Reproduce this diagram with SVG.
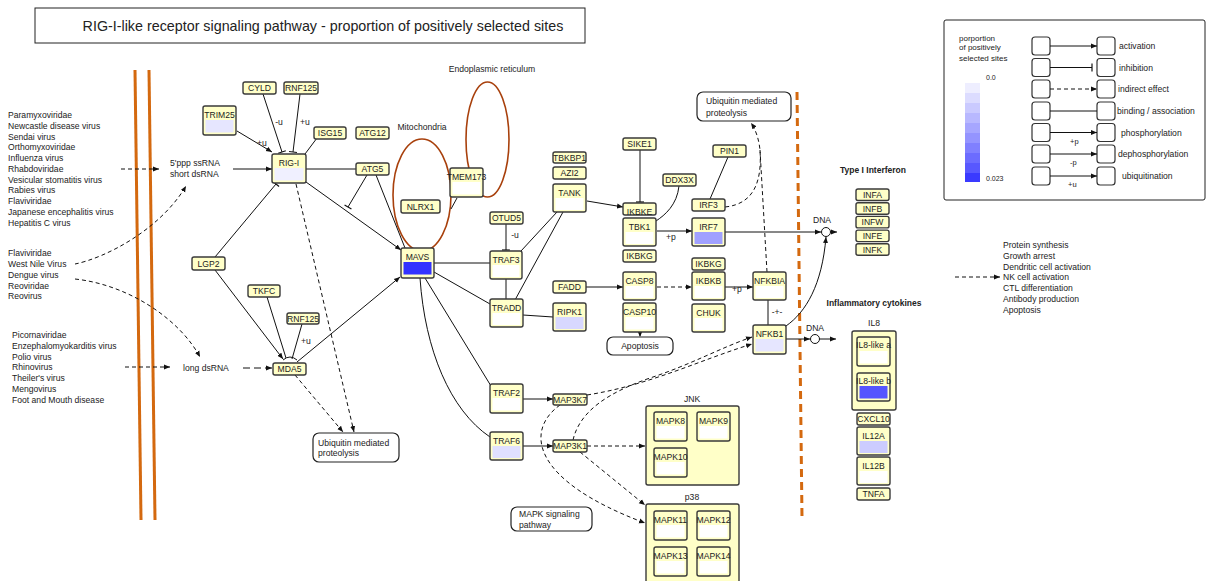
<svg xmlns="http://www.w3.org/2000/svg" width="1213" height="581" viewBox="0 0 1213 581">
<defs>
<marker id="arr" markerUnits="userSpaceOnUse" markerWidth="6" markerHeight="6" viewBox="0 0 6 6" refX="6" refY="3" orient="auto"><path d="M0,0.5 L6,3 L0,5.5 z" fill="#111"/></marker>
<marker id="tbar" markerUnits="userSpaceOnUse" markerWidth="3" markerHeight="10" viewBox="0 0 3 10" refX="1.5" refY="5" orient="auto"><path d="M1.5,1 V9" stroke="#111" stroke-width="1.2"/></marker>
</defs>
<style>
text{font-family:"Liberation Sans",Arial,sans-serif;fill:#222;font-size:8.6px}
.c{text-anchor:middle}
.b{font-weight:bold}
.sm{font-size:7px}
.node rect.box{fill:#ffffc8;stroke:#3a3a3a;stroke-width:1.4}
.node rect.bar{stroke:none}
.grp{fill:#ffffc8;stroke:#3a3a3a;stroke-width:1.4}
.e{fill:none;stroke:#111;stroke-width:1}
.d{stroke-dasharray:4 3}
.a{marker-end:url(#arr)}
.t{marker-end:url(#tbar)}
.org{stroke:#d4690f;stroke-width:3;fill:none}
.ell{fill:none;stroke:#a8400c;stroke-width:1.6}
.lg rect.lb{fill:#fff;stroke:#333;stroke-width:1.2}
</style>
<rect x="0" y="0" width="1213" height="581" fill="#fff"/>

<g id="title"><rect x="35" y="8" width="550" height="35" fill="#fff" stroke="#222" stroke-width="1"/><text class="c" x="323" y="30.5" style="font-size:14.3px">RIG-I-like receptor signaling pathway - proportion of positively selected sites</text></g>

<g id="membranes">
<path class="org" d="M135,70 L141,520"/>
<path class="org" d="M149,70 L155,520"/>
<path class="org" d="M797,92 L802,518" style="stroke-dasharray:8 5"/>
<ellipse class="ell" cx="422" cy="195" rx="29" ry="56"/>
<ellipse class="ell" cx="487.5" cy="139.5" rx="21.5" ry="57.5"/>
<text class="c" x="422" y="130">Mitochondria</text>
<text class="c" x="492" y="72">Endoplasmic reticulum</text>
</g>

<g id="virus-texts" style="font-size:8.5px">
<text x="8" y="118">Paramyxoviridae</text>
<text x="8" y="128.8">Newcastle disease virus</text>
<text x="8" y="139.5">Sendai virus</text>
<text x="8" y="150.3">Orthomyxoviridae</text>
<text x="8" y="161">Influenza virus</text>
<text x="8" y="171.8">Rhabdoviridae</text>
<text x="8" y="182.5">Vesicular stomatitis virus</text>
<text x="8" y="193.3">Rabies virus</text>
<text x="8" y="204">Flaviviridae</text>
<text x="8" y="214.8">Japanese encephalitis virus</text>
<text x="8" y="225.5">Hepatitis C virus</text>
<text x="8" y="256.3">Flaviviridae</text>
<text x="8" y="267">West Nile Virus</text>
<text x="8" y="277.7">Dengue virus</text>
<text x="8" y="288.5">Reoviridae</text>
<text x="8" y="299.2">Reovirus</text>
<text x="12" y="338">Picornaviridae</text>
<text x="12" y="348.8">Enzephalomyokarditis virus</text>
<text x="12" y="359.5">Polio virus</text>
<text x="12" y="370.3">Rhinovirus</text>
<text x="12" y="381">Theiler's virus</text>
<text x="12" y="391.8">Mengovirus</text>
<text x="12" y="402.5">Foot and Mouth disease</text>
<text x="170" y="166">5'ppp ssRNA</text>
<text x="170" y="177">short dsRNA</text>
<text x="183" y="371">long dsRNA</text>
</g>

<g id="connectors">
<path class="e d a" d="M121,169 L159,169"/>
<path class="e a" d="M233,169 L272,169"/>
<path class="e d a" d="M75,264 C105,258 160,230 186,186"/>
<path class="e d a" d="M75,279 C130,285 180,320 200,357"/>
<path class="e d a" d="M125,367 L170,367"/>
<path class="e a" d="M243,368 L272,368" style="stroke-dasharray:7 4"/>
<path class="e a" d="M237,131 L272,152"/>
<path class="e t" d="M263,94 L282,152"/>
<path class="e t" d="M300,94 L293,152"/>
<path class="e" d="M317,138 L305,154"/>
<path class="e" d="M306,169 L356,169"/>
<path class="e t" d="M367,175 L348,207"/>
<path class="e" d="M376,175 L405,248"/>
<path class="e a" d="M306,182 L401,250"/>
<path class="e t" d="M215,257 L276,184"/>
<path class="e d a" d="M296,184 L354,432"/>
<path class="e d a" d="M295,375 L343,432"/>
<path class="e a" d="M215,270 L283,359"/>
<path class="e" d="M267,297 L286,358"/>
<path class="e" d="M302,324 L292,359"/>
<path class="e" d="M283,360 Q290,354 297,360"/>
<path class="e a" d="M297,362 L400,277"/>
<path class="e" d="M434,263 L490,263"/>
<path class="e" d="M434,272 L490,304"/>
<path class="e" d="M425,278 L491,386"/>
<path class="e" d="M420,278 C425,350 450,410 490,437"/>
<path class="e" d="M457,198 L451,209"/>
<path class="e t" d="M506,224 L506,250"/>
<path class="e" d="M506,279 L506,299"/>
<path class="e" d="M521,251 L557,212"/>
<path class="e" d="M515,300 L563,212"/>
<path class="e" d="M523,315 L553,317"/>
<path class="e a" d="M587,201 L623,207"/>
<path class="e t" d="M640,150 L640,202"/>
<path class="e" d="M679,186 C677,205 665,215 656,221"/>
<path class="e a" d="M657,231 L692,231"/>
<path class="e" d="M728,157 L710,199"/>
<path class="e d a" d="M725,207 C755,204 762,180 760,150 C759,140 756,130 751,123"/>
<path class="e d" d="M767,272 L760,150"/>
<path class="e a" d="M586,287 L623,287"/>
<path class="e d a" d="M657,287 L692,287"/>
<path class="e a" d="M725,287 L753,287"/>
<path class="e" d="M768,300 L768,325"/>
<path class="e d a" d="M640,332 L640,337"/>
<path class="e a" d="M725,232 L821,232"/>
<circle cx="826" cy="232" r="4.5" fill="#fff" stroke="#111" stroke-width="1"/>
<path class="e a" d="M830.5,232 L837,232"/>
<path class="e a" d="M786,339 L810,339"/>
<circle cx="815" cy="339" r="4.5" fill="#fff" stroke="#111" stroke-width="1"/>
<path class="e a" d="M819.5,339 L836,339"/>
<path class="e a" d="M786,326 C806,312 822,285 826,237"/>
<path class="e a" d="M523,399 L553,399"/>
<path class="e a" d="M523,446 L553,446"/>
<path class="e d a" d="M587,395 C650,385 700,360 752,344"/>
<path class="e d a" d="M573,440 C580,410 610,392 650,378 C690,365 720,348 752,337"/>
<path class="e d a" d="M587,446 L645,446"/>
<path class="e d a" d="M580,452 L645,505"/>
<path class="e d a" d="M560,405 C525,430 530,480 645,523"/>
<path class="e d a" d="M955,277 L1000,277"/>
<text class="c" x="262" y="146">+u</text>
<text class="c" x="279" y="125">-u</text>
<text class="c" x="305" y="125">+u</text>
<text class="c" x="306" y="344">+u</text>
<text class="c" x="515" y="238">-u</text>
<text class="c" x="671" y="240">+p</text>
<text class="c" x="737" y="292">+p</text>
<text class="c" x="777" y="315">-+-</text>
<text class="c" x="822" y="223">DNA</text>
<text class="c" x="815" y="331">DNA</text>
</g>

<g id="ubiq1"><rect x="313" y="433" width="86" height="29" rx="6" fill="#fff" stroke="#222" stroke-width="1.2"/><text x="318" y="445.5">Ubiquitin mediated</text><text x="318" y="455.8">proteolysis</text></g>
<g id="ubiq2"><rect x="697" y="92" width="94" height="29" rx="6" fill="#fff" stroke="#222" stroke-width="1.2"/><text x="706" y="104">Ubiquitin mediated</text><text x="706" y="115.5">proteolysis</text></g>
<g id="apoptosis"><rect x="607" y="337" width="66" height="18" rx="6" fill="#fff" stroke="#222" stroke-width="1.2"/><text class="c" x="640" y="349">Apoptosis</text></g>
<g id="mapk-path"><rect x="511" y="507" width="81" height="24" rx="6" fill="#fff" stroke="#222" stroke-width="1.2"/><text x="519" y="517.3">MAPK signaling</text><text x="519" y="527.5">pathway</text></g>

<g id="n-cyld" class="node"><rect class="box" x="243" y="82" width="33" height="12" rx="2"/><text class="c" x="259.5" y="91.2">CYLD</text></g>
<g id="n-rnf125a" class="node"><rect class="box" x="284" y="82" width="34" height="12" rx="2"/><text class="c" x="301" y="91.2">RNF125</text></g>
<g id="n-isg15" class="node"><rect class="box" x="314" y="127" width="32" height="12" rx="2"/><text class="c" x="330" y="136.2">ISG15</text></g>
<g id="n-atg12" class="node"><rect class="box" x="356" y="127" width="33" height="12" rx="2"/><text class="c" x="372.5" y="136.2">ATG12</text></g>
<g id="n-atg5" class="node"><rect class="box" x="356" y="163" width="33" height="12" rx="2"/><text class="c" x="372.5" y="172.2">ATG5</text></g>
<g id="n-nlrx1" class="node"><rect class="box" x="401" y="200" width="39" height="13" rx="2"/><text class="c" x="420.5" y="209.7">NLRX1</text></g>
<g id="n-lgp2" class="node"><rect class="box" x="192" y="257" width="33" height="13" rx="2"/><text class="c" x="208.5" y="266.7">LGP2</text></g>
<g id="n-tkfc" class="node"><rect class="box" x="248" y="285" width="32" height="12" rx="2"/><text class="c" x="264" y="294.2">TKFC</text></g>
<g id="n-rnf125b" class="node"><rect class="box" x="287" y="313" width="32" height="11" rx="2"/><text class="c" x="303" y="321.7">RNF125</text></g>
<g id="n-mda5" class="node"><rect class="box" x="273" y="363" width="33" height="12" rx="2"/><text class="c" x="289.5" y="372.2">MDA5</text></g>
<g id="n-otud5" class="node"><rect class="box" x="490" y="212" width="33" height="12" rx="2"/><text class="c" x="506.5" y="221.2">OTUD5</text></g>
<g id="n-tbkbp1" class="node"><rect class="box" x="553" y="152" width="33" height="11" rx="2"/><text class="c" x="569.5" y="160.7">TBKBP1</text></g>
<g id="n-azi2" class="node"><rect class="box" x="553" y="167" width="33" height="12" rx="2"/><text class="c" x="569.5" y="176.2">AZI2</text></g>
<g id="n-sike1" class="node"><rect class="box" x="623" y="138" width="33" height="12" rx="2"/><text class="c" x="639.5" y="147.2">SIKE1</text></g>
<g id="n-ikbke" class="node"><rect class="box" x="623" y="203" width="33" height="12" rx="2"/><text class="c" x="639.5" y="214.5">IKBKE</text></g>
<g id="n-ikbkg1" class="node"><rect class="box" x="623" y="250" width="33" height="12" rx="2"/><text class="c" x="639.5" y="259.2">IKBKG</text></g>
<g id="n-fadd" class="node"><rect class="box" x="553" y="281" width="33" height="12" rx="2"/><text class="c" x="569.5" y="290.2">FADD</text></g>
<g id="n-ddx3x" class="node"><rect class="box" x="663" y="174" width="33" height="12" rx="2"/><text class="c" x="679.5" y="183.2">DDX3X</text></g>
<g id="n-pin1" class="node"><rect class="box" x="713" y="145" width="33" height="12" rx="2"/><text class="c" x="729.5" y="154.2">PIN1</text></g>
<g id="n-irf3" class="node"><rect class="box" x="692" y="199" width="33" height="12" rx="2"/><text class="c" x="708.5" y="208.2">IRF3</text></g>
<g id="n-ikbkg2" class="node"><rect class="box" x="692" y="258" width="33" height="12" rx="2"/><text class="c" x="708.5" y="267.2">IKBKG</text></g>
<g id="n-map3k7" class="node"><rect class="box" x="553" y="394" width="34" height="11" rx="2"/><text class="c" x="570" y="402.7">MAP3K7</text></g>
<g id="n-map3k1" class="node"><rect class="box" x="553" y="440" width="34" height="12" rx="2"/><text class="c" x="570" y="449.2">MAP3K1</text></g>

<g id="n-trim25" class="node"><rect class="box" x="203" y="106" width="33" height="29" rx="2"/><rect class="bar" x="205.5" y="120" width="28" height="12.5" fill="#e6e6ff"/><text class="c" x="219.5" y="117.5">TRIM25</text></g>
<g id="n-rigi" class="node"><rect class="box" x="272" y="154" width="34" height="29" rx="2"/><rect class="bar" x="274.5" y="168" width="29" height="12.5" fill="#f0f0ff"/><text class="c" x="289" y="165.5">RIG-I</text></g>
<g id="n-mavs" class="node"><rect class="box" x="401" y="248" width="33" height="30" rx="2"/><rect class="bar" x="403.5" y="262" width="28" height="12.5" fill="#3333ff"/><text class="c" x="417.5" y="259.5">MAVS</text></g>
<g id="n-tmem173" class="node"><rect class="box" x="450" y="168" width="33" height="29" rx="2"/><rect class="bar" x="452.5" y="182" width="28" height="12.5" fill="#fff"/><text class="c" x="466.5" y="179.5">TMEM173</text></g>
<g id="n-traf3" class="node"><rect class="box" x="490" y="251" width="32" height="28" rx="2"/><rect class="bar" x="492.5" y="265" width="27" height="12" fill="#fff"/><text class="c" x="506" y="262.5">TRAF3</text></g>
<g id="n-tradd" class="node"><rect class="box" x="490" y="299" width="33" height="28" rx="2"/><rect class="bar" x="492.5" y="313" width="28" height="12" fill="#fff"/><text class="c" x="506.5" y="310.5">TRADD</text></g>
<g id="n-tank" class="node"><rect class="box" x="553" y="184" width="33" height="28" rx="2"/><rect class="bar" x="555.5" y="198" width="28" height="12" fill="#fff"/><text class="c" x="569.5" y="195.5">TANK</text></g>
<g id="n-tbk1" class="node"><rect class="box" x="623" y="218" width="33" height="28" rx="2"/><rect class="bar" x="625.5" y="232" width="28" height="12" fill="#fff"/><text class="c" x="639.5" y="229.5">TBK1</text></g>
<g id="n-casp8" class="node"><rect class="box" x="623" y="272" width="33" height="28" rx="2"/><rect class="bar" x="625.5" y="286" width="28" height="12" fill="#fff"/><text class="c" x="639.5" y="283.5">CASP8</text></g>
<g id="n-casp10" class="node"><rect class="box" x="623" y="303" width="33" height="29" rx="2"/><rect class="bar" x="625.5" y="317" width="28" height="12.5" fill="#fff"/><text class="c" x="639.5" y="314.5">CASP10</text></g>
<g id="n-ripk1" class="node"><rect class="box" x="553" y="303" width="33" height="28" rx="2"/><rect class="bar" x="555.5" y="317" width="28" height="12" fill="#d8d8ff"/><text class="c" x="569.5" y="314.5">RIPK1</text></g>
<g id="n-irf7" class="node"><rect class="box" x="692" y="218" width="33" height="28" rx="2"/><rect class="bar" x="694.5" y="232" width="28" height="12" fill="#a0a0ff"/><text class="c" x="708.5" y="229.5">IRF7</text></g>
<g id="n-ikbkb" class="node"><rect class="box" x="692" y="272" width="33" height="28" rx="2"/><rect class="bar" x="694.5" y="286" width="28" height="12" fill="#fff"/><text class="c" x="708.5" y="283.5">IKBKB</text></g>
<g id="n-chuk" class="node"><rect class="box" x="692" y="304" width="33" height="28" rx="2"/><rect class="bar" x="694.5" y="318" width="28" height="12" fill="#fff"/><text class="c" x="708.5" y="315.5">CHUK</text></g>
<g id="n-nfkbia" class="node"><rect class="box" x="753" y="272" width="33" height="28" rx="2"/><rect class="bar" x="755.5" y="286" width="28" height="12" fill="#fff"/><text class="c" x="769.5" y="283.5">NFKBIA</text></g>
<g id="n-nfkb1" class="node"><rect class="box" x="753" y="325" width="33" height="29" rx="2"/><rect class="bar" x="755.5" y="339" width="28" height="12.5" fill="#e6e6ff"/><text class="c" x="769.5" y="336.5">NFKB1</text></g>
<g id="n-traf2" class="node"><rect class="box" x="490" y="384" width="33" height="29" rx="2"/><rect class="bar" x="492.5" y="398" width="28" height="12.5" fill="#fff"/><text class="c" x="506.5" y="395.5">TRAF2</text></g>
<g id="n-traf6" class="node"><rect class="box" x="490" y="432" width="33" height="28" rx="2"/><rect class="bar" x="492.5" y="446" width="28" height="12" fill="#e0e0ff"/><text class="c" x="506.5" y="443.5">TRAF6</text></g>

<g id="interferon">
<text class="c b" x="873" y="173" style="font-size:8.5px">Type I Interferon</text>
<g id="n-infa" class="node"><rect class="box" x="856" y="189" width="33" height="11.5" rx="2"/><text class="c" x="872.5" y="198">INFA</text></g>
<g id="n-infb" class="node"><rect class="box" x="856" y="202.7" width="33" height="11.5" rx="2"/><text class="c" x="872.5" y="211.7">INFB</text></g>
<g id="n-infw" class="node"><rect class="box" x="856" y="216.4" width="33" height="11.5" rx="2"/><text class="c" x="872.5" y="225.4">INFW</text></g>
<g id="n-infe" class="node"><rect class="box" x="856" y="230.1" width="33" height="11.5" rx="2"/><text class="c" x="872.5" y="239.1">INFE</text></g>
<g id="n-infk" class="node"><rect class="box" x="856" y="243.8" width="33" height="11.5" rx="2"/><text class="c" x="872.5" y="252.8">INFK</text></g>
</g>

<g id="cytokines">
<text class="c b" x="874" y="306" style="font-size:8.5px">Inflammatory cytokines</text>
<text class="c" x="874" y="326">IL8</text>
<rect class="grp" x="852" y="331" width="44" height="79" rx="2"/>
<g id="n-il8a" class="node"><rect class="box" x="857" y="337" width="33" height="29" rx="2"/><rect class="bar" x="859.5" y="351" width="28" height="12.5" fill="#fff"/><text class="c" x="873.5" y="348">IL8-like a</text></g>
<g id="n-il8b" class="node"><rect class="box" x="857" y="373" width="33" height="28" rx="2"/><rect class="bar" x="859.5" y="386" width="28" height="12.5" fill="#5555ff"/><text class="c" x="873.5" y="384">IL8-like b</text></g>
<g id="n-cxcl10" class="node"><rect class="box" x="857" y="413" width="33" height="12" rx="2"/><text class="c" x="873.5" y="422.2">CXCL10</text></g>
<g id="n-il12a" class="node"><rect class="box" x="857" y="427" width="33" height="28" rx="2"/><rect class="bar" x="859.5" y="441" width="28" height="12" fill="#ccccff"/><text class="c" x="873.5" y="438.5">IL12A</text></g>
<g id="n-il12b" class="node"><rect class="box" x="857" y="457" width="33" height="28" rx="2"/><rect class="bar" x="859.5" y="471" width="28" height="12" fill="#fff"/><text class="c" x="873.5" y="468.5">IL12B</text></g>
<g id="n-tnfa" class="node"><rect class="box" x="857" y="488" width="33" height="12" rx="2"/><text class="c" x="873.5" y="497.2">TNFA</text></g>
</g>

<g id="jnk">
<text class="c" x="692" y="402">JNK</text>
<rect class="grp" x="646" y="406" width="93" height="79" rx="2"/>
<g id="n-mapk8" class="node"><rect class="box" x="654" y="412" width="33" height="29" rx="2"/><rect class="bar" x="656.5" y="426" width="28" height="12.5" fill="#fff"/><text class="c" x="670.5" y="423.5">MAPK8</text></g>
<g id="n-mapk9" class="node"><rect class="box" x="697" y="412" width="33" height="29" rx="2"/><rect class="bar" x="699.5" y="426" width="28" height="12.5" fill="#fff"/><text class="c" x="713.5" y="423.5">MAPK9</text></g>
<g id="n-mapk10" class="node"><rect class="box" x="654" y="448" width="33" height="29" rx="2"/><rect class="bar" x="656.5" y="462" width="28" height="12.5" fill="#fff"/><text class="c" x="670.5" y="459.5">MAPK10</text></g>
</g>

<g id="p38">
<text class="c" x="692" y="500">p38</text>
<rect class="grp" x="646" y="504" width="93" height="85" rx="2"/>
<g id="n-mapk11" class="node"><rect class="box" x="654" y="511" width="33" height="29" rx="2"/><rect class="bar" x="656.5" y="525" width="28" height="12.5" fill="#fff"/><text class="c" x="670.5" y="522.5">MAPK11</text></g>
<g id="n-mapk12" class="node"><rect class="box" x="697" y="511" width="33" height="29" rx="2"/><rect class="bar" x="699.5" y="525" width="28" height="12.5" fill="#fff"/><text class="c" x="713.5" y="522.5">MAPK12</text></g>
<g id="n-mapk13" class="node"><rect class="box" x="654" y="547" width="33" height="29" rx="2"/><rect class="bar" x="656.5" y="561" width="28" height="12.5" fill="#fff"/><text class="c" x="670.5" y="558.5">MAPK13</text></g>
<g id="n-mapk14" class="node"><rect class="box" x="697" y="547" width="33" height="29" rx="2"/><rect class="bar" x="699.5" y="561" width="28" height="12.5" fill="#fff"/><text class="c" x="713.5" y="558.5">MAPK14</text></g>
</g>

<g id="outcomes" style="font-size:8.5px">
<text x="1003" y="248">Protein synthesis</text>
<text x="1003" y="258.8">Growth arrest</text>
<text x="1003" y="269.6">Dendritic cell activation</text>
<text x="1003" y="280.4">NK cell activation</text>
<text x="1003" y="291.2">CTL differentiation</text>
<text x="1003" y="302">Antibody production</text>
<text x="1003" y="312.8">Apoptosis</text>
</g>

<g id="legend" class="lg">
<rect x="944" y="20" width="261" height="180" rx="2" fill="#fff" stroke="#222" stroke-width="1"/>
<text x="959" y="40.5" style="font-size:8px">porportion</text>
<text x="959" y="50.3" style="font-size:8px">of positively</text>
<text x="959" y="61" style="font-size:8px">selected sites</text>
<text class="sm" x="986" y="80">0.0</text>
<text class="sm" x="986" y="181">0.023</text>
<rect x="965" y="83" width="15" height="10" fill="#eeeeff"/>
<rect x="965" y="93" width="15" height="10" fill="#dcdcff"/>
<rect x="965" y="103" width="15" height="10" fill="#cacaff"/>
<rect x="965" y="113" width="15" height="10" fill="#b8b8ff"/>
<rect x="965" y="123" width="15" height="10" fill="#a6a6ff"/>
<rect x="965" y="133" width="15" height="10" fill="#9494ff"/>
<rect x="965" y="143" width="15" height="10" fill="#8080ff"/>
<rect x="965" y="153" width="15" height="10" fill="#6c6cff"/>
<rect x="965" y="163" width="15" height="10" fill="#5858ff"/>
<rect x="965" y="173" width="15" height="9" fill="#3a3aff"/>
<rect class="lb" x="1032" y="37" width="18" height="18" rx="3"/><rect class="lb" x="1097" y="37" width="18" height="18" rx="3"/>
<rect class="lb" x="1032" y="58.5" width="18" height="18" rx="3"/><rect class="lb" x="1097" y="58.5" width="18" height="18" rx="3"/>
<rect class="lb" x="1032" y="80" width="18" height="18" rx="3"/><rect class="lb" x="1097" y="80" width="18" height="18" rx="3"/>
<rect class="lb" x="1032" y="102" width="18" height="18" rx="3"/><rect class="lb" x="1097" y="102" width="18" height="18" rx="3"/>
<rect class="lb" x="1032" y="123.5" width="18" height="18" rx="3"/><rect class="lb" x="1097" y="123.5" width="18" height="18" rx="3"/>
<rect class="lb" x="1032" y="145" width="18" height="18" rx="3"/><rect class="lb" x="1097" y="145" width="18" height="18" rx="3"/>
<rect class="lb" x="1032" y="167" width="18" height="18" rx="3"/><rect class="lb" x="1097" y="167" width="18" height="18" rx="3"/>
<path class="e a" d="M1050,46 L1097,46"/>
<path class="e t" d="M1050,67.5 L1092,67.5"/>
<path class="e d a" d="M1050,89 L1097,89"/>
<path class="e" d="M1050,111 L1097,111"/>
<path class="e a" d="M1050,132.5 L1097,132.5"/>
<path class="e a" d="M1050,154 L1097,154"/>
<path class="e a" d="M1050,176 L1097,176"/>
<text x="1070" y="144" style="font-size:7.5px">+p</text>
<text x="1070" y="165" style="font-size:7.5px">-p</text>
<text x="1068" y="186.5" style="font-size:7.5px">+u</text>
<text x="1119" y="49">activation</text>
<text x="1119" y="70.5">inhibition</text>
<text x="1118" y="92">indirect effect</text>
<text x="1117" y="114">binding / association</text>
<text x="1121" y="135.5">phosphorylation</text>
<text x="1118" y="157">dephosphorylation</text>
<text x="1122" y="179">ubiquitination</text>
</g>
</svg>
